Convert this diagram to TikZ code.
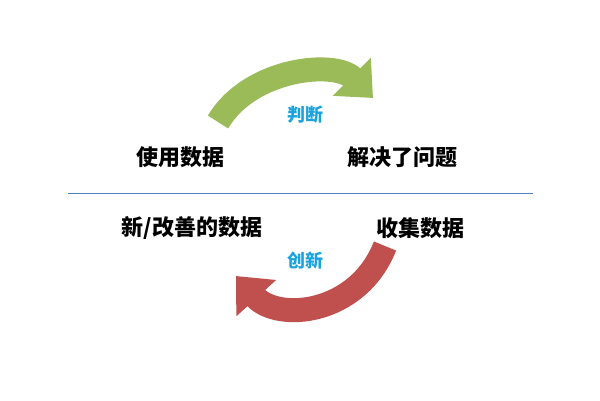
\documentclass[tikz,border=0pt]{standalone}
\usepackage{fontspec}
\newfontfamily\cjk{Noto Sans CJK SC}
\usetikzlibrary{arrows.meta}
\definecolor{gr}{HTML}{9BBB59}
\definecolor{rd}{HTML}{C0504D}
\definecolor{bl}{HTML}{1AA3DC}
\definecolor{ln}{HTML}{4F81BD}
\tikzset{lab/.style={font=\cjk\bfseries\fontsize{22}{26}\selectfont},
blab/.style={font=\cjk\bfseries\fontsize{18}{21}\selectfont,text=bl},
band/.style={line width=24pt}}
\begin{document}
\begin{tikzpicture}[x=1pt,y=-1pt]
\useasboundingbox (0,0) rectangle (600,400);
\coordinate (g1) at (218,122);
\coordinate (g2) at (373,98);
\draw[band,gr,-{Triangle[width=52pt,length=30pt]}] (g1) .. controls (250,68) and (335,60) .. (g2);
\coordinate (r1) at (385,246);
\coordinate (r2) at (236,276);
\draw[band,rd,-{Triangle[width=52pt,length=30pt]}] (r1) .. controls (358,315) and (278,322) .. (r2);
\node[blab] (j) at (305,115) {判断};
\node[blab] (c) at (305,261) {创新};
\node[lab] (a) at (180,157) {使用数据};
\node[lab] (b) at (402,157) {解决了问题};
\node[lab] (d) at (192,228) {新/改善的数据};
\node[lab] (e) at (420,228) {收集数据};
\coordinate (l1) at (68,193);
\coordinate (l2) at (533,193);
\draw[ln,line width=0.6pt] (l1) -- (l2);
\end{tikzpicture}
\end{document}
